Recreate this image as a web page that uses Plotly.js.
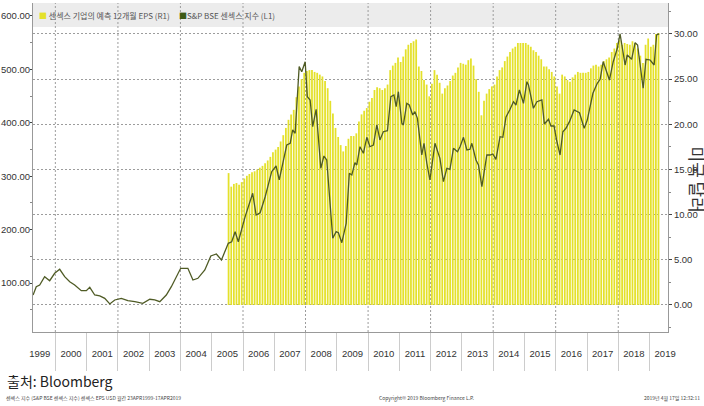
<!DOCTYPE html>
<html><head><meta charset="utf-8">
<script src="https://cdn.plot.ly/plotly-3.0.1.min.js"></script>
<style>html,body{margin:0;padding:0;background:#fff}#chart{width:704px;height:406px}</style>
</head><body><div id="chart"></div>
<script>
const epsName = '센섹스 기업의 예측 12개월 EPS (R1)';
const lineName = 'S&P BSE 센섹스 지수 (L1)';
const rightAxisTitle = '미국 달러';
const sourceText = '출처: Bloomberg';
const footLeft = '센섹스 지수 (S&P BSE 센섹스 지수) 센섹스 EPS USD 월간 23APR1999-17APR2019';
const footCenter = 'Copyright© 2019 Bloomberg Finance L.P.';
const footRight = '2019년 4월 17일 12:32:11';
const gridYears = [2000, 2002, 2004, 2006, 2008, 2010, 2012, 2014, 2016, 2018];

// S&P BSE Sensex index (USD), left axis; dates as decimal years
const lineT = [1999.29,1999.39,1999.50,1999.66,1999.82,1999.98,2000.14,2000.30,2000.46,2000.62,2000.83,2000.99,2001.10,2001.26,2001.42,2001.58,2001.74,2001.90,2002.11,2002.32,2002.54,2002.80,2003.02,2003.18,2003.34,2003.55,2003.71,2003.87,2004.01,2004.24,2004.40,2004.56,2004.78,2004.97,2005.15,2005.31,
2005.53,2005.64,2005.75,2005.85,2006.07,2006.31,2006.42,2006.55,2006.71,2006.92,2007.06,2007.16,2007.40,2007.51,2007.59,2007.67,2007.80,2007.88,2007.99,2008.06,2008.15,2008.23,2008.34,2008.49,2008.59,2008.68,2008.87,2008.98,2009.05,2009.16,2009.30,2009.40,2009.48,2009.58,2009.64,2009.74,2009.85,2009.96,2010.06,
2010.17,2010.28,2010.38,2010.49,2010.62,2010.73,2010.83,2010.90,2010.97,2011.08,2011.13,2011.24,2011.32,2011.43,2011.50,2011.58,2011.72,2011.79,2011.88,2011.98,2012.14,2012.30,2012.41,2012.52,2012.62,2012.73,2012.86,2012.94,2013.05,2013.16,2013.26,2013.32,2013.45,2013.53,2013.64,2013.80,2013.90,2013.99,2014.09,2014.22,2014.31,2014.41,2014.54,
2014.65,2014.73,2014.84,2014.97,2015.08,2015.13,2015.29,2015.40,2015.56,2015.64,2015.77,2015.85,2015.95,2016.03,2016.14,2016.23,2016.33,2016.44,2016.59,2016.76,2016.91,2017.01,2017.19,2017.33,2017.42,2017.52,2017.63,2017.72,2017.84,2017.97,2018.06,2018.22,2018.29,2018.43,2018.54,2018.62,2018.80,2018.89,2019.02,2019.15,2019.23,2019.31];
const lineV = [77.5,93.1,96.3,111.8,104.3,118.2,125.7,111.8,102.4,96.3,85.6,85.6,91.9,77.5,75.7,71.3,60.7,68.2,71.3,66.9,65.0,62.0,69.5,68.2,65.0,77.5,93.1,111.8,127.5,127.5,105.6,108.8,124.3,150.6,154.3,143.1,
174.3,177.3,196.1,177.3,224.2,268.0,227.3,231.6,261.6,308.4,319.1,292.9,358.4,361.6,386.5,380.3,505.1,495.7,514.4,448.9,442.7,392.7,425.3,314.8,337.8,330.3,183.7,196.1,194.2,175.5,211.8,305.4,302.2,325.3,321.0,355.2,342.9,372.8,355.2,
358.4,395.9,367.8,383.3,385.2,448.9,452.1,430.2,458.2,399.1,395.9,436.5,433.3,414.6,420.8,408.4,339.7,361.6,324.2,292.9,361.6,333.5,289.7,314.8,312.9,352.2,345.9,355.2,372.8,349.1,350.4,361.6,330.3,321.0,280.3,339.7,339.7,341.6,331.6,374.0,372.8,410.3,425.3,
439.5,433.3,461.4,436.5,477.0,470.8,427.2,439.5,442.7,397.8,406.6,394.0,394.0,367.8,339.7,383.3,389.7,402.1,424.0,418.9,389.7,405.2,455.2,474.0,481.5,514.4,495.7,480.1,514.4,539.5,566.3,508.2,527.0,518.9,550.0,545.7,464.6,518.9,517.6,508.2,564.4,566.3];

// Sensex 12M forward EPS (USD), right axis, monthly
const epsMonth = ['2005-07','2005-08','2005-09','2005-10','2005-11','2005-12',
'2006-01','2006-02','2006-03','2006-04','2006-05','2006-06','2006-07','2006-08','2006-09','2006-10','2006-11','2006-12',
'2007-01','2007-02','2007-03','2007-04','2007-05','2007-06','2007-07','2007-08','2007-09','2007-10','2007-11','2007-12',
'2008-01','2008-02','2008-03','2008-04','2008-05','2008-06','2008-07','2008-08','2008-09','2008-10','2008-11','2008-12',
'2009-01','2009-02','2009-03','2009-04','2009-05','2009-06','2009-07','2009-08','2009-09','2009-10','2009-11','2009-12',
'2010-01','2010-02','2010-03','2010-04','2010-05','2010-06','2010-07','2010-08','2010-09','2010-10','2010-11','2010-12',
'2011-01','2011-02','2011-03','2011-04','2011-05','2011-06','2011-07','2011-08','2011-09','2011-10','2011-11','2011-12',
'2012-01','2012-02','2012-03','2012-04','2012-05','2012-06','2012-07','2012-08','2012-09','2012-10','2012-11','2012-12',
'2013-01','2013-02','2013-03','2013-04','2013-05','2013-06','2013-07','2013-08','2013-09','2013-10','2013-11','2013-12',
'2014-01','2014-02','2014-03','2014-04','2014-05','2014-06','2014-07','2014-08','2014-09','2014-10','2014-11','2014-12',
'2015-01','2015-02','2015-03','2015-04','2015-05','2015-06','2015-07','2015-08','2015-09','2015-10','2015-11','2015-12',
'2016-01','2016-02','2016-03','2016-04','2016-05','2016-06','2016-07','2016-08','2016-09','2016-10','2016-11','2016-12',
'2017-01','2017-02','2017-03','2017-04','2017-05','2017-06','2017-07','2017-08','2017-09','2017-10','2017-11','2017-12',
'2018-01','2018-02','2018-03','2018-04','2018-05','2018-06','2018-07','2018-08','2018-09','2018-10','2018-11','2018-12',
'2019-01','2019-02','2019-03','2019-04'];
const epsValue = [14.6,13.1,13.4,13.5,13.3,13.6,
14.0,14.3,14.5,14.7,14.8,15.0,15.2,15.4,15.7,16.0,16.4,16.9,
17.2,17.5,18.1,18.8,19.6,20.5,21.1,21.6,23.0,24.2,25.0,25.7,
25.9,26.0,26.0,25.8,25.7,25.5,25.3,24.8,24.0,22.6,21.2,19.6,
18.6,17.7,17.0,17.6,18.4,18.7,18.7,19.0,20.3,21.1,21.5,21.8,
22.5,22.9,23.8,24.1,24.0,23.8,24.0,24.4,26.0,26.5,26.8,27.4,
26.9,27.5,28.3,28.8,29.0,29.2,29.4,26.4,25.9,24.9,24.4,23.1,
24.5,26.0,25.5,24.6,23.4,24.0,24.3,24.8,25.4,25.7,26.3,26.8,
26.7,26.6,27.1,27.3,26.5,25.0,23.6,21.0,22.6,23.4,23.9,24.2,
24.4,25.3,26.0,26.3,27.0,27.5,28.0,28.4,28.6,29.0,29.0,29.0,
29.0,28.8,28.6,28.2,28.0,27.6,27.2,26.4,26.4,26.1,25.8,25.3,
24.2,23.4,25.5,25.3,24.9,24.7,25.2,25.5,25.8,25.7,25.7,25.7,
25.8,26.2,26.5,26.6,26.4,26.6,27.0,27.2,27.4,28.0,28.4,29.0,
29.3,28.8,29.0,28.9,28.8,29.2,29.0,28.4,27.6,26.8,28.8,29.5,
28.6,28.8,30.0,30.1];

function yearToDate(t){
  const y = Math.floor(t);
  const a = Date.UTC(y,0,1), b = Date.UTC(y+1,0,1);
  return new Date(a + (t-y)*(b-a)).toISOString().slice(0,10);
}

const NUM_FONT = '"Liberation Sans",Arial,sans-serif';
const KR_FONT = '"Noto Sans CJK KR","Noto Sans",sans-serif';
const xRange = ['1999-04-15','2019-08-05'];
const barColor = '#e4e12b';
const lineColor = '#4f5b25';
const gridDots = '2px,2px';
const gridColor = '#9c9c9c';

const traces = [
  {type:'bar', name:epsName, x:epsMonth, y:epsValue, xperiod:'M1', xperiodalignment:'middle',
   marker:{color:barColor, line:{width:0}}, xaxis:'x', yaxis:'y', hoverinfo:'skip'},
  {type:'scatter', mode:'lines', name:lineName, x:lineT.map(yearToDate), y:lineV,
   line:{color:lineColor, width:1.3}, xaxis:'x', yaxis:'y2', hoverinfo:'skip'}
];

// vertical dotted grid every two years (axis decoration)
const gridShapes = gridYears.map(function(yr){
  return {type:'line', xref:'x', yref:'paper', x0:yr+'-01-01', x1:yr+'-01-01', y0:0, y1:1,
          line:{color:gridColor, width:1, dash:gridDots}, layer:'below'};
});

const tickFont = {family:NUM_FONT, size:9.5, color:'#333'};
const layout = {
  width:704, height:406, margin:{l:33, r:36, t:3, b:74},
  paper_bgcolor:'#ffffff', plot_bgcolor:'#ffffff',
  showlegend:false, bargap:0.3,
  xaxis:{type:'date', range:xRange, dtick:'M12', tick0:'2000-01-01', ticks:'outside', ticklen:38,
    tickcolor:'#cccccc', tickwidth:1, ticklabelmode:'period', tickformat:'%Y', ticklabelstandoff:-25,
    showgrid:false, showline:true, linecolor:'#999999', zeroline:false, anchor:'y', tickfont:tickFont},
  yaxis:{side:'right', range:[-2.99, 33.43], dtick:5, tick0:0, tickformat:'.2f',
    ticks:'outside', ticklen:3, tickcolor:'#444', showline:true, linecolor:'#999999',
    showgrid:true, gridcolor:gridColor, griddash:gridDots, gridwidth:1, zeroline:false,
    minor:{dtick:2.5, ticks:'outside', ticklen:2, tickcolor:'#888', showgrid:false},
    tickfont:tickFont},
  yaxis2:{side:'left', overlaying:'y', anchor:'x', range:[8.24, 624.3], dtick:100, tick0:0, tickformat:'.2f',
    ticks:'outside', ticklen:2, tickcolor:'#444', ticklabelstandoff:-2, showline:true, linecolor:'#999999',
    showgrid:false, zeroline:false,
    minor:{dtick:50, ticks:'outside', ticklen:2, tickcolor:'#888', showgrid:false},
    tickfont:tickFont},
  shapes:[{type:'rect', xref:'paper', yref:'paper', x0:0, x1:1, y0:0.927, y1:1,
    fillcolor:'#ececec', line:{width:0}, layer:'below'}].concat(gridShapes),
  annotations:[
    {xref:'paper', yref:'paper', x:0.006, y:0.9635, xanchor:'left', yanchor:'middle', showarrow:false,
     text:'<span style="color:'+barColor+'">■</span> '+epsName, font:{family:KR_FONT, size:8, color:'#555'}},
    {xref:'paper', yref:'paper', x:0.226, y:0.9635, xanchor:'left', yanchor:'middle', showarrow:false,
     text:'<span style="color:#3d5a14">■</span>'+lineName, font:{family:KR_FONT, size:8, color:'#555'}},
    {xref:'paper', yref:'paper', x:1.048, y:0.462, xanchor:'center', yanchor:'middle', showarrow:false,
     textangle:90, text:rightAxisTitle, font:{family:KR_FONT, size:17, color:'#333'}},
    {xref:'paper', yref:'paper', x:-0.044, y:-0.149, xanchor:'left', yanchor:'middle', showarrow:false,
     text:sourceText, font:{family:KR_FONT, size:14, color:'#222'}},
    {xref:'paper', yref:'paper', x:-0.046, y:-0.2006, xanchor:'left', yanchor:'middle', showarrow:false,
     text:footLeft, font:{family:KR_FONT, size:5, color:'#444'}},
    {xref:'paper', yref:'paper', x:0.620, y:-0.2006, xanchor:'center', yanchor:'middle', showarrow:false,
     text:footCenter, font:{family:KR_FONT, size:5, color:'#444'}},
    {xref:'paper', yref:'paper', x:1.053, y:-0.2006, xanchor:'right', yanchor:'middle', showarrow:false,
     text:footRight, font:{family:KR_FONT, size:5, color:'#444'}}
  ]
};

Plotly.newPlot('chart', traces, layout, {displayModeBar:false, staticPlot:true});
</script>
</body></html>
